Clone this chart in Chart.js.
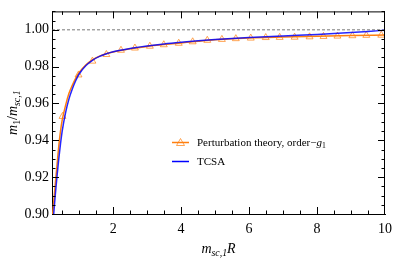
<!DOCTYPE html>
<html>
<head>
<meta charset="utf-8">
<script src="https://cdn.jsdelivr.net/npm/chart.js@4.4.0/dist/chart.umd.min.js"></script>
<style>
html,body{margin:0;padding:0;background:#fff;}
#c{display:block;}
</style>
</head>
<body>
<canvas id="c" width="399" height="262"></canvas>
<script>
// perturbation theory curve (orange line)
var ptR   = [0.20, 0.22, 0.30, 0.35, 0.40, 0.45, 0.50, 0.60, 0.70, 0.80, 0.90, 1.00, 1.20, 1.40, 1.60, 1.80, 2.00, 2.50, 3.00, 3.50, 4.00, 4.50, 5.00, 6.00, 7.00, 8.00, 9.00, 10.0];
var ptVal = [0.896, 0.900, 0.917, 0.927, 0.937, 0.945, 0.951, 0.959, 0.9655, 0.970, 0.9738, 0.9768, 0.9810, 0.9838, 0.9857, 0.9870, 0.9880, 0.9897, 0.9910, 0.9920, 0.9929, 0.9938, 0.9946, 0.9956, 0.9961, 0.9965, 0.9969, 0.9972];
// triangle markers on the perturbation theory curve
var mkR   = [0.51, 0.98, 1.39, 1.80, 2.23, 2.64, 3.08, 3.49, 3.93, 4.34, 4.77, 5.20, 5.61, 6.05, 6.49, 6.90, 7.34, 7.78, 8.19, 8.60, 9.04, 9.45, 9.89];
var mkVal = [0.9530, 0.9755, 0.9830, 0.9866, 0.9889, 0.9901, 0.9911, 0.9919, 0.9927, 0.9935, 0.9943, 0.9948, 0.9952, 0.9955, 0.9958, 0.9959, 0.9960, 0.9962, 0.9964, 0.9966, 0.9968, 0.9970, 0.9971];
// TCSA (blue line)
var tcsaR   = [0.20, 0.25, 0.30, 0.35, 0.40, 0.45, 0.50, 0.60, 0.70, 0.80, 0.90, 1.00, 1.20, 1.40, 1.60, 1.80, 2.00, 2.50, 3.00, 3.50, 4.00, 4.50, 5.00, 6.00, 7.00, 8.00, 9.00, 9.50, 10.0];
var tcsaVal = [0.888, 0.900, 0.911, 0.921, 0.930, 0.938, 0.945, 0.955, 0.9625, 0.968, 0.9725, 0.9760, 0.9806, 0.9836, 0.9856, 0.9870, 0.9881, 0.9899, 0.9912, 0.9923, 0.9932, 0.9940, 0.9947, 0.9958, 0.9967, 0.9975, 0.9985, 0.9991, 0.9998];

var xTicks = [2, 4, 6, 8, 10];
var yTicks = [0.90, 0.92, 0.94, 0.96, 0.98, 1.00];
var refLine = 1.0;

var SERIF = "'Liberation Serif','DejaVu Serif',serif";

function pts(xs, ys) {
  var out = [];
  for (var i = 0; i < xs.length; i++) out.push({x: xs[i], y: ys[i]});
  return out;
}

// draws text made of parts {t, it, sub}, returns total width
function richText(ctx, parts, x, y, size, align) {
  var w = 0, i;
  for (i = 0; i < parts.length; i++) {
    var p = parts[i];
    var fs = p.sub ? size * 0.7 : size;
    ctx.font = (p.it ? "italic " : "") + fs + "px " + SERIF;
    p.w = ctx.measureText(p.t).width;
    w += p.w;
  }
  var cx = align == "center" ? x - w / 2 : x;
  ctx.textBaseline = "alphabetic";
  ctx.textAlign = "left";
  for (i = 0; i < parts.length; i++) {
    var p = parts[i];
    var fs = p.sub ? size * 0.7 : size;
    ctx.font = (p.it ? "italic " : "") + fs + "px " + SERIF;
    ctx.fillText(p.t, cx, y + (p.sub ? size * 0.22 : 0));
    cx += p.w;
  }
  return w;
}

var extras = {
  id: "extras",
  afterDraw: function(chart) {
    var ctx = chart.ctx, a = chart.chartArea;
    var xs = chart.scales.x, ys = chart.scales.y;
    ctx.save();
    ctx.strokeStyle = "#000";
    ctx.lineWidth = 1;
    ctx.beginPath();
    ctx.moveTo(a.left, a.top + 0.5); ctx.lineTo(a.right, a.top + 0.5);
    ctx.moveTo(a.right - 0.5, a.top); ctx.lineTo(a.right - 0.5, a.bottom);
    ctx.stroke();

    // inward ticks on all sides
    ctx.beginPath();
    var v, px, len;
    for (v = 0.5; v < 10.01; v += 0.5) {
      px = Math.round(xs.getPixelForValue(v)) + 0.5;
      if (px < a.left + 1 || px > a.right) continue;
      len = (Math.abs(v / 2 - Math.round(v / 2)) < 1e-6) ? 7 : 3.5;
      ctx.moveTo(px, a.bottom); ctx.lineTo(px, a.bottom - len);
      ctx.moveTo(px, a.top); ctx.lineTo(px, a.top + len);
    }
    for (var k = 0; k <= 22; k++) {
      v = 0.90 + k * 0.005;
      px = Math.round(ys.getPixelForValue(v)) + 0.5;
      if (px < a.top || px > a.bottom) continue;
      len = (k % 4 == 0) ? 7 : 3.5;
      ctx.moveTo(a.left, px); ctx.lineTo(a.left + len, px);
      ctx.moveTo(a.right, px); ctx.lineTo(a.right - len, px);
    }
    ctx.stroke();

    // axis titles
    ctx.fillStyle = "#000";
    richText(ctx, [{t: "m", it: true}, {t: "sc,1", it: true, sub: true}, {t: "R", it: true}],
      (a.left + a.right) / 2, 253, 14, "center");
    ctx.save();
    ctx.translate(17, (a.top + a.bottom) / 2);
    ctx.rotate(-Math.PI / 2);
    richText(ctx, [{t: "m", it: true}, {t: "1", sub: true}, {t: "/", it: false}, {t: "m", it: true}, {t: "sc,1", it: true, sub: true}],
      0, 0, 14, "center");
    ctx.restore();

    // legend
    var lx = 172, lw = 17, ty = 142.5;
    ctx.lineWidth = 1.5;
    ctx.strokeStyle = "#ff7f0e";
    ctx.beginPath(); ctx.moveTo(lx, ty); ctx.lineTo(lx + lw, ty); ctx.stroke();
    ctx.lineWidth = 1;
    ctx.strokeStyle = "rgba(255,127,14,0.7)";
    ctx.beginPath();
    ctx.moveTo(lx + lw / 2, ty - 4); ctx.lineTo(lx + lw / 2 + 4, ty + 3); ctx.lineTo(lx + lw / 2 - 4, ty + 3); ctx.closePath();
    ctx.stroke();
    ctx.fillStyle = "#000";
    richText(ctx, [{t: "Perturbation theory, order\u2212"}, {t: "g", it: true}, {t: "1", sub: true}], lx + 25, ty + 3.5, 11, "left");
    ty = 161.5;
    ctx.lineWidth = 1.5;
    ctx.strokeStyle = "#0000ff";
    ctx.beginPath(); ctx.moveTo(lx, ty); ctx.lineTo(lx + lw, ty); ctx.stroke();
    richText(ctx, [{t: "TCSA"}], lx + 25, ty + 3.5, 11, "left");
    ctx.restore();
  }
};

new Chart(document.getElementById("c").getContext("2d"), {
  type: "scatter",
  data: {
    datasets: [
      {label: "ref", data: pts([0.2, 10], [refLine, refLine]), showLine: true, pointRadius: 0,
       borderColor: "#555", borderWidth: 0.8, borderDash: [3, 2], order: 4},
      {label: "Perturbation theory", data: pts(ptR, ptVal), showLine: true, pointRadius: 0,
       borderColor: "#ff7f0e", borderWidth: 1.5, cubicInterpolationMode: "monotone", order: 3},
      {label: "markers", data: pts(mkR, mkVal), showLine: false, pointStyle: "triangle", pointRadius: 4,
       pointBorderColor: "rgba(255,127,14,0.7)", pointBackgroundColor: "rgba(0,0,0,0)", pointBorderWidth: 1, order: 2},
      {label: "TCSA", data: pts(tcsaR, tcsaVal), showLine: true, pointRadius: 0,
       borderColor: "rgba(0,0,255,0.85)", borderWidth: 1.5, cubicInterpolationMode: "monotone", order: 1}
    ]
  },
  options: {
    responsive: false,
    animation: false,
    devicePixelRatio: 1,
    layout: {padding: {top: 5, right: 12, left: 0, bottom: 0}},
    plugins: {legend: {display: false}, tooltip: {enabled: false}},
    scales: {
      x: {
        type: "linear", min: 0.2, max: 10,
        afterBuildTicks: function(s) { s.ticks = xTicks.map(function(v) { return {value: v}; }); },
        afterFit: function(s) { s.height = 48; },
        grid: {display: false, drawTicks: false},
        border: {display: true, color: "#000", width: 1},
        ticks: {color: "#000", font: {family: SERIF, size: 14}, padding: 7, maxRotation: 0}
      },
      y: {
        type: "linear", min: 0.9, max: 1.01,
        afterBuildTicks: function(s) { s.ticks = yTicks.map(function(v) { return {value: v}; }); },
        afterFit: function(s) { s.width = 52; },
        grid: {display: false, drawTicks: false},
        border: {display: true, color: "#000", width: 1},
        ticks: {color: "#000", font: {family: SERIF, size: 14}, padding: 3,
                callback: function(v) { return v.toFixed(2); }}
      }
    }
  },
  plugins: [extras]
});
</script>
</body>
</html>
